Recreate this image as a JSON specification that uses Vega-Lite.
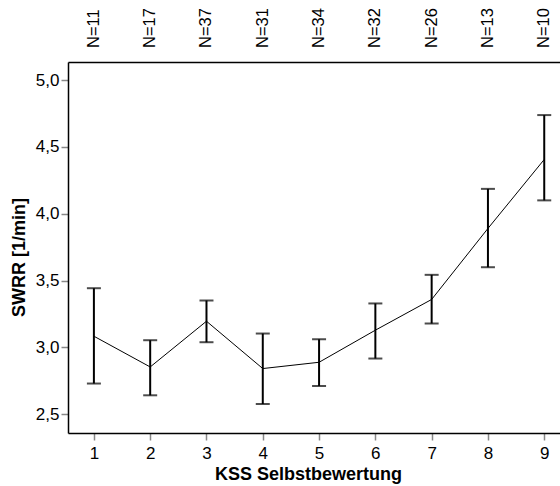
{
  "$schema": "https://vega.github.io/schema/vega-lite/v6.json",
  "autosize": "none",
  "width": 492,
  "height": 371,
  "padding": {"left": 68, "top": 62, "right": 0, "bottom": 53},
  "background": "white",
  "config": {
    "font": "Liberation Sans",
    "view": {"stroke": null},
    "axis": {"grid": false, "labelFont": "Liberation Sans", "titleFont": "Liberation Sans", "labelColor": "black", "titleColor": "black"}
  },
  "data": {
    "values": [
      {"k": 1, "mean": 3.084, "lo": 2.73, "hi": 3.443, "N": "N=11"},
      {"k": 2, "mean": 2.854, "lo": 2.642, "hi": 3.054, "N": "N=17"},
      {"k": 3, "mean": 3.196, "lo": 3.039, "hi": 3.351, "N": "N=37"},
      {"k": 4, "mean": 2.842, "lo": 2.577, "hi": 3.104, "N": "N=31"},
      {"k": 5, "mean": 2.889, "lo": 2.712, "hi": 3.061, "N": "N=34"},
      {"k": 6, "mean": 3.129, "lo": 2.917, "hi": 3.329, "N": "N=32"},
      {"k": 7, "mean": 3.359, "lo": 3.179, "hi": 3.543, "N": "N=26"},
      {"k": 8, "mean": 3.89, "lo": 3.6, "hi": 4.186, "N": "N=13"},
      {"k": 9, "mean": 4.406, "lo": 4.1, "hi": 4.738, "N": "N=10"}
    ]
  },
  "resolve": {"axis": {"x": "independent"}},
  "layer": [
    {
      "mark": {"type": "rule", "color": "black", "strokeWidth": 2},
      "encoding": {
        "x": {
          "field": "k", "type": "quantitative",
          "scale": {"domain": [0.54, 9.28], "nice": false, "zero": false},
          "axis": {
            "orient": "bottom", "values": [1, 2, 3, 4, 5, 6, 7, 8, 9], "format": "d",
            "title": "KSS Selbstbewertung", "titleFontSize": 18, "titleFontWeight": "bold", "titlePadding": 4, "titleX": 240,
            "labelFontSize": 17, "labelPadding": 5,
            "tickColor": "#888888", "tickSize": 7, "tickWidth": 1.5,
            "domainColor": "black", "domainWidth": 1.5
          }
        },
        "y": {
          "field": "lo", "type": "quantitative",
          "scale": {"domain": [2.36, 5.135], "nice": false, "zero": false},
          "axis": {
            "values": [2.5, 3, 3.5, 4, 4.5, 5], "format": ".1f",
            "labelExpr": "replace(datum.label, '.', ',')",
            "title": "SWRR [1/min]", "titleFontSize": 18, "titleFontWeight": "bold", "titlePadding": 7, "titleY": 195,
            "labelFontSize": 17, "labelPadding": 2,
            "tickColor": "#888888", "tickSize": 7, "tickWidth": 1.5,
            "domainColor": "black", "domainWidth": 1.5
          }
        },
        "y2": {"field": "hi"}
      }
    },
    {
      "mark": {"type": "tick", "color": "black", "orient": "horizontal", "size": 14, "thickness": 2},
      "encoding": {
        "x": {"field": "k", "type": "quantitative", "axis": null},
        "y": {"field": "lo", "type": "quantitative"}
      }
    },
    {
      "mark": {"type": "tick", "color": "black", "orient": "horizontal", "size": 14, "thickness": 2},
      "encoding": {
        "x": {"field": "k", "type": "quantitative", "axis": null},
        "y": {"field": "hi", "type": "quantitative"}
      }
    },
    {
      "mark": {"type": "line", "color": "black", "strokeWidth": 1},
      "encoding": {
        "x": {"field": "k", "type": "quantitative", "axis": null},
        "y": {"field": "mean", "type": "quantitative"}
      }
    },
    {
      "mark": {"type": "text", "angle": 270, "align": "left", "baseline": "middle", "fontSize": 16.5, "color": "black", "y": -14},
      "encoding": {
        "x": {
          "field": "k", "type": "quantitative",
          "axis": {"orient": "top", "labels": false, "ticks": false, "title": null, "domain": true, "domainColor": "black", "domainWidth": 1.5}
        },
        "text": {"field": "N"}
      }
    }
  ]
}
